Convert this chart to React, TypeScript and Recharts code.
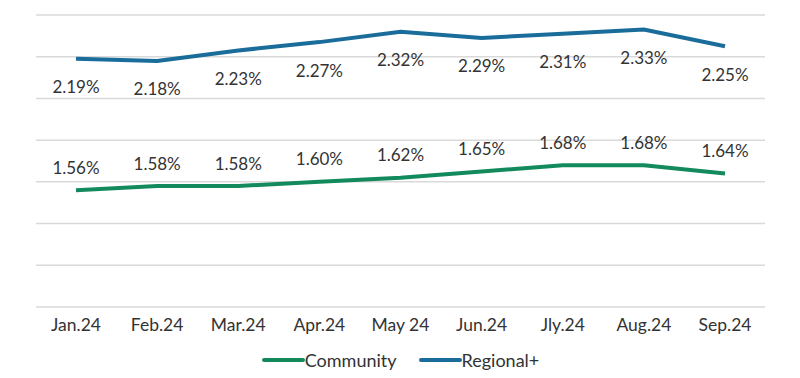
import { CartesianGrid, LabelList, Legend, Line, LineChart, XAxis, YAxis } from "recharts"

const months = ["Jan.24", "Feb.24", "Mar.24", "Apr.24", "May 24", "Jun.24", "Jly.24", "Aug.24", "Sep.24"]
const community = [1.56, 1.58, 1.58, 1.6, 1.62, 1.65, 1.68, 1.68, 1.64]
const regional = [2.19, 2.18, 2.23, 2.27, 2.32, 2.29, 2.31, 2.33, 2.25]
const yTicks = [1.0, 1.2, 1.4, 1.6, 1.8, 2.0, 2.2, 2.4]

const data = months.map((m, i) => ({
    name: m,
    Community: community[i],
    "Regional+": regional[i],
}))

const GREEN = "#128a5c"
const BLUE = "#1a6c9a"
const TEXT = "#333333"

const makeLabel = (dy: number) => (props: any) => {
    const { x, y, value } = props
    return (
        <text x={x} y={y + dy} fill={TEXT} fontSize={17} textAnchor="middle" dominantBaseline="central">
            {`${Number(value).toFixed(2)}%`}
        </text>
    )
}

const renderLegend = (props: any) => {
    const { payload } = props
    return (
        <div style={{ display: "flex", justifyContent: "center", gap: 22, fontSize: 18, color: TEXT, paddingTop: 6 }}>
            {payload.map((p: any) => (
                <div key={p.value} style={{ display: "flex", alignItems: "center" }}>
                    <svg width={43} height={10}>
                        <line x1={2} y1={5} x2={41} y2={5} stroke={p.color} strokeWidth={4} strokeLinecap="round" />
                    </svg>
                    <span>{p.value}</span>
                </div>
            ))}
        </div>
    )
}

export default function App() {
    return (
        <div style={{ position: "absolute", left: 0, top: 0, fontFamily: "Lato, sans-serif" }}>
            <LineChart width={800} height={378} data={data} margin={{ top: 15, right: 35, left: 36, bottom: 0 }}>
                <CartesianGrid vertical={false} stroke="#d9d9d9" strokeWidth={1.5} />
                <XAxis
                    dataKey="name"
                    axisLine={false}
                    tickLine={false}
                    padding={{ left: 40, right: 40 }}
                    tick={{ fill: TEXT, fontSize: 17.5 }}
                    height={36}
                    dy={4}
                />
                <YAxis hide domain={[1.0, 2.4]} ticks={yTicks} />
                <Legend content={renderLegend} verticalAlign="bottom" height={35} />
                <Line
                    dataKey="Community"
                    stroke={GREEN}
                    strokeWidth={4}
                    dot={false}
                    isAnimationActive={false}
                >
                    <LabelList dataKey="Community" content={makeLabel(-23)} />
                </Line>
                <Line
                    dataKey="Regional+"
                    stroke={BLUE}
                    strokeWidth={4}
                    dot={false}
                    isAnimationActive={false}
                >
                    <LabelList dataKey="Regional+" content={makeLabel(28)} />
                </Line>
            </LineChart>
        </div>
    )
}
